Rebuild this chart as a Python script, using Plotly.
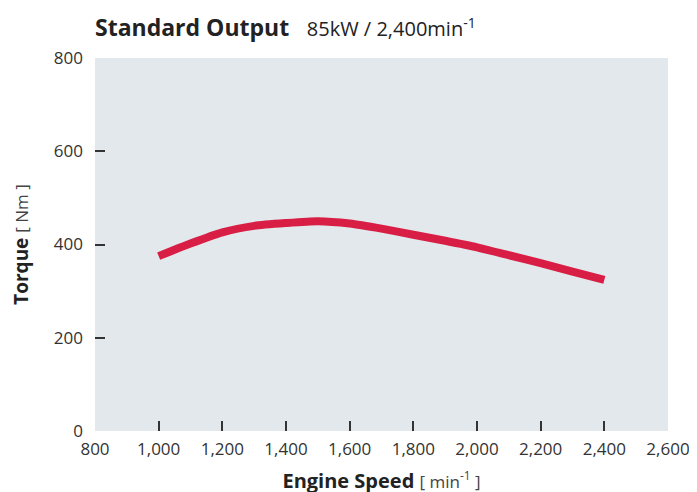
import plotly.graph_objects as go

speed = [1000, 1100, 1200, 1300, 1400, 1500, 1600, 1700, 1800, 1900, 2000, 2100, 2200, 2300, 2400]
torque = [375, 402, 426, 440, 446, 450, 445, 434, 421, 408, 394, 377, 360, 342, 324]

x_ticks = [800, 1000, 1200, 1400, 1600, 1800, 2000, 2200, 2400, 2600]
x_labels = ["800", "1,000", "1,200", "1,400", "1,600", "1,800", "2,000", "2,200", "2,400", "2,600"]
y_ticks = [0, 200, 400, 600, 800]
y_labels = ["0", "200", "400", "600", "800"]

FONT = "Open Sans"

fig = go.Figure()
fig.add_trace(go.Scatter(
    x=speed, y=torque, mode="lines",
    line=dict(color="#d81e45", width=8, shape="spline", smoothing=0.6),
    hoverinfo="skip", showlegend=False,
))

# page body has an 8px default margin, so margins are offset by 8px
fig.update_layout(
    width=697, height=492,
    margin=dict(l=87, r=37, t=50, b=69),
    paper_bgcolor="white",
    plot_bgcolor="#e3e8ec",
    font=dict(family=FONT, color="#333333", size=17),
    xaxis=dict(
        range=[800, 2600], tickvals=x_ticks, ticktext=x_labels,
        ticks="inside", ticklen=10, tickwidth=1.5, tickcolor="#333333",
        showgrid=False, zeroline=False, showline=False, automargin=False,
        tickfont=dict(size=17, color="#333333"),
        ticklabelstandoff=6,
        title=dict(text="<b>Engine Speed</b> <span style='font-size:17px;color:#444'>[ min<sup>-1</sup> ]</span>",
                   font=dict(size=20, color="#222222"), standoff=14),
    ),
    yaxis=dict(
        range=[0, 800], tickvals=y_ticks, ticktext=y_labels,
        ticks="inside", ticklen=10, tickwidth=1.5, tickcolor="#333333",
        showgrid=False, zeroline=False, showline=False, automargin=False,
        tickfont=dict(size=17, color="#333333"),
        ticklabelstandoff=11,
        title=dict(text="<b>Torque</b> <span style='font-size:17px;color:#444'>[ Nm ]</span>",
                   font=dict(size=19, color="#222222"), standoff=20),
    ),
    annotations=[dict(
        xref="paper", yref="paper", x=0, y=1, xanchor="left", yanchor="top",
        yshift=49, xshift=-2,
        text="<b style='font-size:23px'>Standard Output</b>    <span style='font-size:20px'>85kW / 2,400min<sup>-1</sup></span>",
        showarrow=False, font=dict(family=FONT, color="#222222"),
    )],
)

fig.write_html("out.html")
